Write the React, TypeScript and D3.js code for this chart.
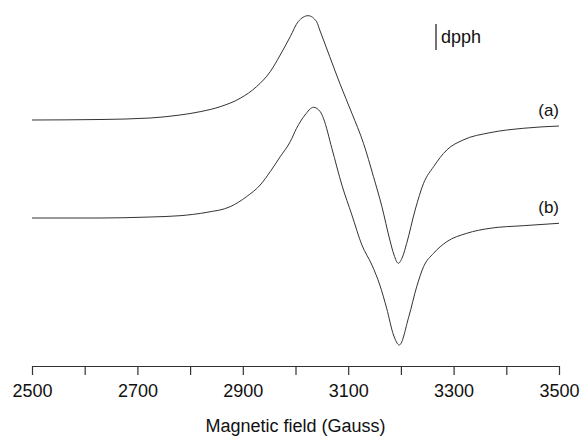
import React, { useEffect, useRef } from 'react'
import * as d3 from 'd3'

// EPR spectra, intensities in arbitrary units (baseline = 0)
const fieldA = [2500, 2629, 2724, 2781, 2819, 2857, 2895, 2926, 2952, 2971, 2990, 3005, 3024, 3040, 3046, 3065, 3084, 3107, 3129, 3148, 3164, 3179, 3187, 3195, 3203, 3211, 3227, 3243, 3262, 3287, 3318, 3369, 3432, 3500]
const signalA = [0, 0.5, 2, 5, 8.3, 13.3, 21.7, 33.3, 48.3, 65, 83.3, 98.3, 104.3, 98.3, 90, 63.3, 36.7, 6.7, -23.3, -56.7, -86.7, -120, -135, -143.3, -137, -123.3, -90, -63.3, -46.7, -30, -20, -12.7, -8.3, -6]

const fieldB = [2500, 2629, 2724, 2781, 2832, 2876, 2907, 2933, 2952, 2971, 2990, 3002, 3018, 3034, 3047, 3053, 3069, 3088, 3107, 3126, 3145, 3160, 3173, 3186, 3197, 3215, 3230, 3243, 3262, 3287, 3325, 3369, 3432, 3500]
const signalB = [0, 0, 1, 2.3, 5.7, 11.3, 21.3, 33, 46.3, 61.3, 76.3, 89.7, 103, 110.7, 106.3, 99.7, 69.7, 33, 3, -27, -47, -67, -90.3, -117, -127, -98.7, -68.7, -48.7, -35.3, -23.7, -15.3, -10.3, -7.7, -5.3]

const labels = ['(a)', '(b)']
const offsets = [0, -98]
const tickValues = d3.range(2500, 3501, 100)

export default function App() {
  const ref = useRef<SVGSVGElement>(null)
  const width = 581
  const height = 436

  useEffect(() => {
    const svg = d3.select(ref.current)
    svg.selectAll('*').remove()

    const x = d3.scaleLinear().domain([2500, 3500]).range([32, 559])
    const y = d3.scaleLinear().domain([-246, 120]).range([366, 0])

    const series = [
      fieldA.map((f, i) => [f, signalA[i]]),
      fieldB.map((f, i) => [f, signalB[i]]),
    ]

    const line = d3.line<number[]>()
      .x(d => x(d[0]))
      .curve(d3.curveMonotoneX)

    series.forEach((s, k) => {
      svg.append('path')
        .attr('d', line.y(d => y(d[1] + offsets[k]))(s))
        .attr('fill', 'none')
        .attr('stroke', '#333')
        .attr('stroke-width', 1)

      const last = s[s.length - 1]
      svg.append('text')
        .attr('x', x(3500))
        .attr('y', y(last[1] + offsets[k]) - 10)
        .attr('text-anchor', 'end')
        .attr('font-size', 17)
        .attr('fill', '#111')
        .text(labels[k])
    })

    const axis = d3.axisBottom(x)
      .tickValues(tickValues)
      .tickSize(9)
      .tickSizeOuter(0)
      .tickPadding(9)
      .tickFormat(d => ((+d - 2500) % 200 === 0 ? String(d) : ''))

    const g = svg.append('g')
      .attr('transform', `translate(0,${y(-246)})`)
      .call(axis)
    g.selectAll('path, line').attr('stroke', '#333').attr('stroke-width', 1.2)
    g.selectAll('text')
      .attr('font-size', 18)
      .attr('font-family', '"Liberation Sans", Arial, sans-serif')
      .attr('fill', '#111')

    svg.append('text')
      .attr('x', (x(2500) + x(3500)) / 2)
      .attr('y', 432)
      .attr('text-anchor', 'middle')
      .attr('font-size', 18)
      .attr('fill', '#111')
      .text('Magnetic field (Gauss)')

    // dpph marker
    svg.append('line')
      .attr('x1', 436).attr('x2', 436)
      .attr('y1', 24).attr('y2', 50)
      .attr('stroke', '#444')
      .attr('stroke-width', 1.5)
    svg.append('text')
      .attr('x', 441)
      .attr('y', 43)
      .attr('font-size', 18)
      .attr('fill', '#111')
      .text('dpph')
  }, [])

  return (
    <svg
      ref={ref}
      width={width}
      height={height}
      style={{ position: 'absolute', left: 0, top: 0, fontFamily: '"Liberation Sans", Arial, sans-serif', background: '#fff' }}
    />
  )
}
